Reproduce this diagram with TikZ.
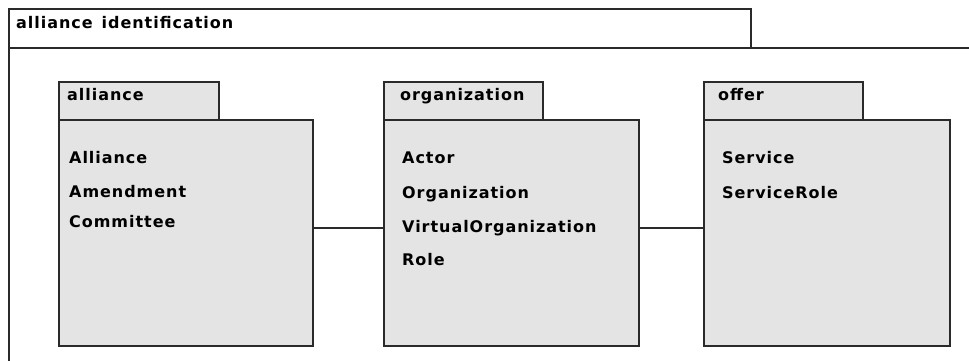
\documentclass[tikz,border=0pt]{standalone}
\usepackage{fontspec}
\newfontfamily\umlfont[LetterSpace=6]{DejaVu Sans}
\definecolor{pkgfill}{HTML}{E4E4E4}
\definecolor{pkgline}{HTML}{2A2A2A}
\begin{document}
\begin{tikzpicture}[x=1pt,y=-1pt,
  box/.style={draw=pkgline, line width=1.8pt, rectangle, inner sep=0pt, anchor=north west},
  pkgtab/.style={box, fill=pkgfill},
  pkgbody/.style={box, fill=pkgfill},
  lbl/.style={inner sep=0pt, anchor=base west, font=\umlfont\bfseries\fontsize{16}{18}\selectfont, text=black},
  conn/.style={draw=pkgline, line width=1.5pt}]
\useasboundingbox (0,0) rectangle (969,360);
\clip (0,0) rectangle (969,360);
% outer frame
\node[box, minimum width=990, minimum height=340] (frame) at (8,47) {};
\node[box, minimum width=742, minimum height=39] (frametab) at (8,8) {};
\node[lbl] (frametitle) at (16,28) {alliance\hspace{9pt}identification};
% alliance package
\node[pkgtab, minimum width=160, minimum height=38] (allianceT) at (58,81) {};
\node[pkgbody, minimum width=254, minimum height=226] (allianceB) at (58,119) {};
\node[lbl] (allianceL) at (67,100) {alliance};
\node[lbl] (a1) at (69,163) {Alliance};
\node[lbl] (a2) at (69,197) {Amendment};
\node[lbl] (a3) at (69,227) {Committee};
% organization package
\node[pkgtab, minimum width=159, minimum height=38] (orgT) at (383,81) {};
\node[pkgbody, minimum width=255, minimum height=226] (orgB) at (383,119) {};
\node[lbl] (orgL) at (400,100) {organization};
\node[lbl] (o1) at (402,163) {Actor};
\node[lbl] (o2) at (402,198) {Organization};
\node[lbl] (o3) at (402,232) {VirtualOrganization};
\node[lbl] (o4) at (402,265) {Role};
% offer package
\node[pkgtab, minimum width=159, minimum height=38] (offerT) at (703,81) {};
\node[pkgbody, minimum width=246, minimum height=226] (offerB) at (703,119) {};
\node[lbl] (offerL) at (718,100) {offer};
\node[lbl] (f1) at (722,163) {Service};
\node[lbl] (f2) at (722,198) {ServiceRole};
% connectors
\coordinate (c1) at (0,228);
\draw[conn] (allianceB.east |- c1) -- (orgB.west |- c1);
\draw[conn] (orgB.east |- c1) -- (offerB.west |- c1);
\end{tikzpicture}
\end{document}
